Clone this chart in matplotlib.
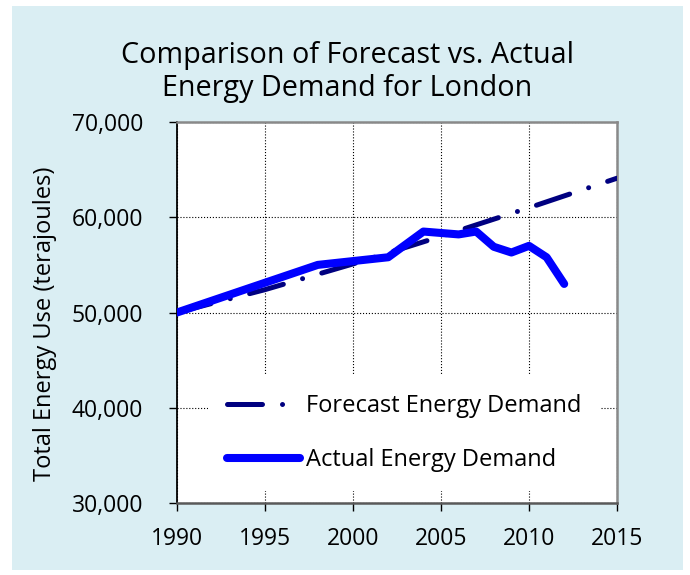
import matplotlib.pyplot as plt
from matplotlib.patches import Rectangle
from matplotlib.ticker import FuncFormatter

plt.rcParams['font.family'] = ['Open Sans', 'DejaVu Sans']

forecast_years = [1990, 1995, 2000, 2005, 2010, 2015]
forecast_demand = [50000, 52400, 55100, 58000, 61000, 64100]

actual_years = [1990, 1998, 2002, 2004, 2006, 2007, 2008, 2009, 2010, 2011, 2012]
actual_demand = [50000, 55000, 55800, 58500, 58200, 58500, 56900, 56300, 57000, 55800, 53000]

fig = plt.figure(figsize=(6.9, 5.75), dpi=100)
fig.patch.set_facecolor('white')
bg = Rectangle((12 / 690, 5 / 575), 671 / 690, 564 / 575,
               transform=fig.transFigure, facecolor='#DAEEF3',
               edgecolor='none', zorder=-10)
fig.add_artist(bg)

ax = fig.add_axes([0.2565, 0.1252, 0.6377, 0.6626])
ax.set_facecolor('white')

ax.plot(forecast_years, forecast_demand, color='#000080', lw=3.6,
        dashes=(7, 4, 0.01, 4), dash_capstyle='round',
        label='Forecast Energy Demand', zorder=3)
ax.plot(actual_years, actual_demand, color='#0000FF', lw=5.8,
        solid_capstyle='round', solid_joinstyle='round',
        label='Actual Energy Demand', zorder=4)

ax.set_xlim(1990, 2015)
ax.set_ylim(30000, 70000)
ax.set_xticks(range(1990, 2016, 5))
ax.set_yticks(range(30000, 70001, 10000))
ax.yaxis.set_major_formatter(FuncFormatter(lambda v, p: f'{int(v):,}'))
ax.tick_params(labelsize=16.5, length=6, width=1)
ax.tick_params(axis='x', pad=11)
ax.tick_params(axis='y', pad=18.5)
ax.grid(True, color='black', linestyle=':', linewidth=0.8)

ax.spines['left'].set_color('black')
ax.spines['left'].set_linewidth(1.3)
ax.spines['bottom'].set_color('#595959')
ax.spines['bottom'].set_linewidth(1.8)
for side in ('top', 'right'):
    ax.spines[side].set_color('#898989')
    ax.spines[side].set_linewidth(1.8)

ax.set_ylabel('Total Energy Use (terajoules)', fontsize=17)
ax.yaxis.set_label_coords(-0.273, 0.47)

fig.text(0.503, 1 - 72 / 575, 'Comparison of Forecast vs. Actual\nEnergy Demand for London',
         fontsize=20.7, ha='center', va='center', linespacing=1.2)

leg = ax.legend(loc='center left', bbox_to_anchor=(0.0705, 0.184), frameon=True,
                fontsize=17, handlelength=3.1, labelspacing=1.27,
                handletextpad=0.25, borderpad=0.8, borderaxespad=0,
                fancybox=False)
leg.get_frame().set_facecolor('white')
leg.get_frame().set_edgecolor('none')
leg.get_frame().set_alpha(1)

fig.savefig('out.png', dpi=100, facecolor=fig.get_facecolor())
